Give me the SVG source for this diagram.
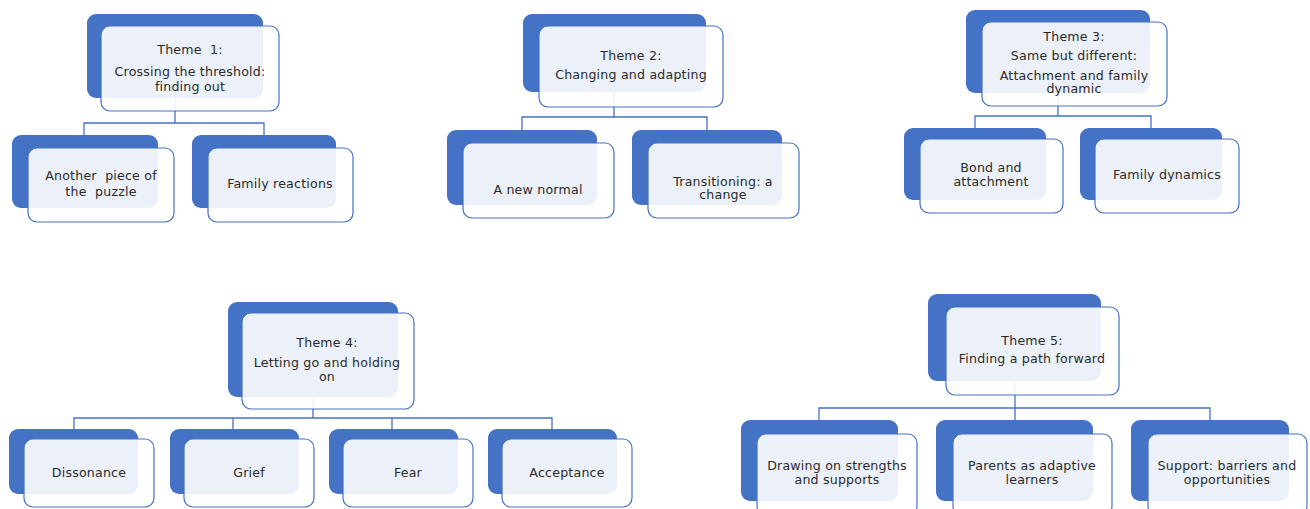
<svg xmlns="http://www.w3.org/2000/svg" width="1310" height="509" viewBox="0 0 1310 509">
<style>
.bk{fill:#4472c4}
.fr{fill:#ffffff;fill-opacity:0.9;stroke:#4472c4;stroke-width:1.2}
.cn{fill:none;stroke:#4472c4;stroke-width:1.3}
text{font-family:"DejaVu Sans","Liberation Sans",sans-serif;font-size:12.6px;letter-spacing:0.2px;fill:#2b2b2b;text-anchor:middle;white-space:pre}
</style>
<rect width="1310" height="509" fill="#ffffff"/>
<g id="connectors">
<path class="cn" d="M175 98V123M84 135V123H264V135"/>
<path class="cn" d="M614 92V117M522 130V117H707V130"/>
<path class="cn" d="M1058 93V116M975 128V116H1151V128"/>
<path class="cn" d="M313 397V418M74 429V418H552V429M233 418V429M392 418V429"/>
<path class="cn" d="M1015 381V408M819 420V408H1210V420M1015 408V420"/>
</g>
<g id="theme1">
<rect class="bk" x="87" y="14" width="176" height="84" rx="9"/>
<rect class="fr" x="101" y="26" width="178" height="85" rx="9"/>
<text x="190" y="54" xml:space="preserve">Theme  1:</text>
<text x="190" y="76">Crossing the threshold:</text>
<text x="190" y="91">finding out</text>
</g>
<g id="t1c1">
<rect class="bk" x="12" y="135" width="146" height="73" rx="9"/>
<rect class="fr" x="28" y="148" width="146" height="74" rx="9"/>
<text x="101" y="180" xml:space="preserve">Another  piece of</text>
<text x="101" y="196" xml:space="preserve">the  puzzle</text>
</g>
<g id="t1c2">
<rect class="bk" x="192" y="135" width="144" height="73" rx="9"/>
<rect class="fr" x="208" y="148" width="145" height="74" rx="9"/>
<text x="280" y="188">Family reactions</text>
</g>
<g id="theme2">
<rect class="bk" x="523" y="14" width="183" height="78" rx="9"/>
<rect class="fr" x="539" y="26" width="184" height="81" rx="9"/>
<text x="631" y="60">Theme 2:</text>
<text x="631" y="79">Changing and adapting</text>
</g>
<g id="t2c1">
<rect class="bk" x="447" y="130" width="150" height="75" rx="9"/>
<rect class="fr" x="463" y="143" width="151" height="75" rx="9"/>
<text x="538" y="194">A new normal</text>
</g>
<g id="t2c2">
<rect class="bk" x="632" y="130" width="150" height="75" rx="9"/>
<rect class="fr" x="648" y="143" width="151" height="75" rx="9"/>
<text x="723" y="186">Transitioning: a</text>
<text x="723" y="199">change</text>
</g>
<g id="theme3">
<rect class="bk" x="966" y="10" width="184" height="83" rx="9"/>
<rect class="fr" x="982" y="22" width="185" height="84" rx="9"/>
<text x="1074" y="41">Theme 3:</text>
<text x="1074" y="60">Same but different:</text>
<text x="1074" y="80">Attachment and family</text>
<text x="1074" y="93">dynamic</text>
</g>
<g id="t3c1">
<rect class="bk" x="904" y="128" width="142" height="72" rx="9"/>
<rect class="fr" x="920" y="139" width="143" height="74" rx="9"/>
<text x="991" y="172">Bond and</text>
<text x="991" y="186">attachment</text>
</g>
<g id="t3c2">
<rect class="bk" x="1080" y="128" width="142" height="72" rx="9"/>
<rect class="fr" x="1095" y="139" width="144" height="74" rx="9"/>
<text x="1167" y="179">Family dynamics</text>
</g>
<g id="theme4">
<rect class="bk" x="228" y="302" width="170" height="95" rx="9"/>
<rect class="fr" x="242" y="313" width="172" height="96" rx="9"/>
<text x="327" y="347">Theme 4:</text>
<text x="327" y="367">Letting go and holding</text>
<text x="327" y="381">on</text>
</g>
<g id="t4c1">
<rect class="bk" x="9" y="429" width="129" height="65" rx="9"/>
<rect class="fr" x="24" y="439" width="130" height="68" rx="9"/>
<text x="89" y="477">Dissonance</text>
</g>
<g id="t4c2">
<rect class="bk" x="170" y="429" width="129" height="65" rx="9"/>
<rect class="fr" x="184" y="439" width="130" height="68" rx="9"/>
<text x="249" y="477">Grief</text>
</g>
<g id="t4c3">
<rect class="bk" x="329" y="429" width="129" height="65" rx="9"/>
<rect class="fr" x="343" y="439" width="130" height="68" rx="9"/>
<text x="408" y="477">Fear</text>
</g>
<g id="t4c4">
<rect class="bk" x="488" y="429" width="129" height="65" rx="9"/>
<rect class="fr" x="502" y="439" width="130" height="68" rx="9"/>
<text x="567" y="477">Acceptance</text>
</g>
<g id="theme5">
<rect class="bk" x="928" y="294" width="173" height="87" rx="9"/>
<rect class="fr" x="946" y="307" width="173" height="88" rx="9"/>
<text x="1032" y="345">Theme 5:</text>
<text x="1032" y="363">Finding a path forward</text>
</g>
<g id="t5c1">
<rect class="bk" x="741" y="420" width="157" height="81" rx="9"/>
<rect class="fr" x="757" y="434" width="160" height="81" rx="9"/>
<text x="837" y="470">Drawing on strengths</text>
<text x="837" y="484">and supports</text>
</g>
<g id="t5c2">
<rect class="bk" x="936" y="420" width="157" height="81" rx="9"/>
<rect class="fr" x="953" y="434" width="159" height="81" rx="9"/>
<text x="1032" y="470">Parents as adaptive</text>
<text x="1032" y="484">learners</text>
</g>
<g id="t5c3">
<rect class="bk" x="1131" y="420" width="158" height="81" rx="9"/>
<rect class="fr" x="1148" y="434" width="159" height="81" rx="9"/>
<text x="1227" y="470">Support: barriers and</text>
<text x="1227" y="484">opportunities</text>
</g>
</svg>
